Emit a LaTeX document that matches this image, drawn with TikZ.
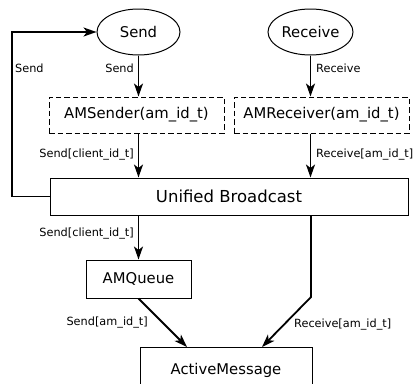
\documentclass[tikz,border=0pt]{standalone}
\usepackage{fontspec}
\setmainfont{DejaVu Sans}
\usetikzlibrary{arrows.meta,shapes.geometric}
\begin{document}
\begin{tikzpicture}[x=1pt,y=-1pt,
  arr/.style={line width=1.8pt,-{Stealth[length=13pt,width=9pt,inset=3.5pt]}},
  box/.style={draw,line width=1pt,inner sep=0pt,font=\fontsize{14.8}{18}\selectfont},
  dbox/.style={box,dashed,dash pattern=on 5.5pt off 3pt},
  oval/.style={box,ellipse},
  lbl/.style={font=\fontsize{11.3}{13}\selectfont,inner sep=0pt}]
\useasboundingbox (0,0) rectangle (415,383);
\node[oval,minimum width=83pt,minimum height=46pt] (send) at (138.5,32) {Send};
\node[oval,minimum width=85pt,minimum height=46pt] (receive) at (310.5,32) {Receive};
\node[dbox,minimum width=175pt,minimum height=36pt] (amsender) at (136.5,115) {AMSender(am\_id\_t)};
\node[dbox,minimum width=175pt,minimum height=36pt] (amreceiver) at (321.5,115) {AMReceiver(am\_id\_t)};
\node[box,minimum width=358pt,minimum height=37pt,font=\fontsize{16.5}{20}\selectfont] (ub) at (229,196.5) {Unified Broadcast};
\node[box,minimum width=105pt,minimum height=38pt] (amqueue) at (138.5,279) {AMQueue};
\node[box,minimum width=172pt,minimum height=46pt,anchor=north] (active) at (226,347) {ActiveMessage};
\coordinate (lc) at (12,0);
\coordinate (bend) at (311,297);
% arrows
\draw[arr] (send.south) -- (send.south |- amsender.north);
\draw[arr] (send.south |- amsender.south) -- (send.south |- ub.north);
\draw[arr] (receive.south) -- (receive.south |- amreceiver.north);
\draw[arr] (receive.south |- amreceiver.south) -- (receive.south |- ub.north);
\draw[arr] (ub.west) -- (ub.west -| lc) -- (lc |- send.west) -- (send.west);
\draw[arr] (amqueue.north |- ub.south) -- (amqueue.north);
\draw[arr] (amqueue.south) -- ([xshift=-39pt]active.north);
\draw[arr] (bend |- ub.south) -- (bend) -- ([xshift=36pt]active.north);
% labels
\node[lbl,anchor=east] (l1) at (134,68) {Send};
\node[lbl,anchor=west] (l2) at (316,68) {Receive};
\node[lbl,anchor=west] (l3) at (15,68) {Send};
\node[lbl,anchor=east] (l4) at (134,155) {Send[client\_id\_t]};
\node[lbl,anchor=west] (l5) at (316,155) {Receive[am\_id\_t]};
\node[lbl,anchor=east] (l6) at (134,234) {Send[client\_id\_t]};
\node[lbl,anchor=east] (l7) at (148,323) {Send[am\_id\_t]};
\node[lbl,anchor=west] (l8) at (294,325) {Receive[am\_id\_t]};
\end{tikzpicture}
\end{document}
